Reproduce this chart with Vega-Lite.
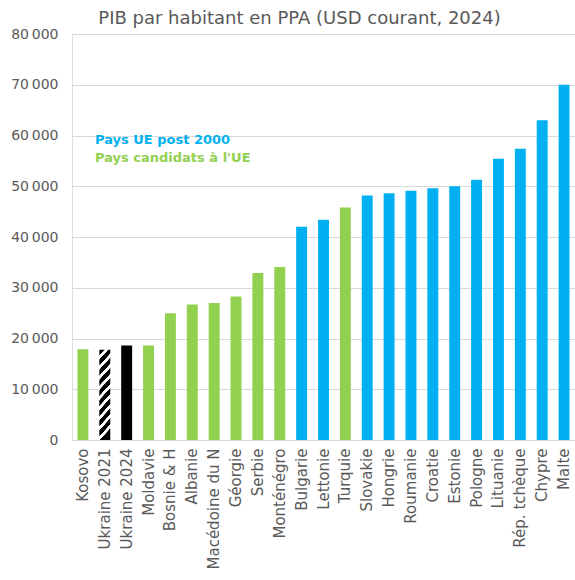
{
  "$schema": "https://vega.github.io/schema/vega-lite/v6.json",
  "width": 503,
  "height": 406,
  "autosize": {"type": "none"},
  "padding": {"left": 72, "top": 34, "right": 0, "bottom": 140},
  "background": "white",
  "title": {
    "text": "PIB par habitant en PPA (USD courant, 2024)",
    "font": "DejaVu Sans",
    "fontSize": 18,
    "fontWeight": "normal",
    "color": "#595959",
    "anchor": "middle",
    "dx": -24,
    "offset": -1
  },
  "data": {
    "values": [
      {"pays": "Kosovo", "pib": 17900, "groupe": "Pays candidats à l'UE"},
      {"pays": "Ukraine 2021", "pib": 17800, "groupe": "Ukraine"},
      {"pays": "Ukraine 2024", "pib": 18600, "groupe": "Ukraine"},
      {"pays": "Moldavie", "pib": 18600, "groupe": "Pays candidats à l'UE"},
      {"pays": "Bosnie & H", "pib": 25000, "groupe": "Pays candidats à l'UE"},
      {"pays": "Albanie", "pib": 26700, "groupe": "Pays candidats à l'UE"},
      {"pays": "Macédoine du N", "pib": 27000, "groupe": "Pays candidats à l'UE"},
      {"pays": "Géorgie", "pib": 28300, "groupe": "Pays candidats à l'UE"},
      {"pays": "Serbie", "pib": 32900, "groupe": "Pays candidats à l'UE"},
      {"pays": "Monténégro", "pib": 34100, "groupe": "Pays candidats à l'UE"},
      {"pays": "Bulgarie", "pib": 42000, "groupe": "Pays UE post 2000"},
      {"pays": "Lettonie", "pib": 43400, "groupe": "Pays UE post 2000"},
      {"pays": "Turquie", "pib": 45800, "groupe": "Pays candidats à l'UE"},
      {"pays": "Slovakie", "pib": 48200, "groupe": "Pays UE post 2000"},
      {"pays": "Hongrie", "pib": 48600, "groupe": "Pays UE post 2000"},
      {"pays": "Roumanie", "pib": 49100, "groupe": "Pays UE post 2000"},
      {"pays": "Croatie", "pib": 49600, "groupe": "Pays UE post 2000"},
      {"pays": "Estonie", "pib": 50000, "groupe": "Pays UE post 2000"},
      {"pays": "Pologne", "pib": 51300, "groupe": "Pays UE post 2000"},
      {"pays": "Lituanie", "pib": 55400, "groupe": "Pays UE post 2000"},
      {"pays": "Rép. tchèque", "pib": 57400, "groupe": "Pays UE post 2000"},
      {"pays": "Chypre", "pib": 63000, "groupe": "Pays UE post 2000"},
      {"pays": "Malte", "pib": 70000, "groupe": "Pays UE post 2000"}
    ]
  },
  "mark": {"type": "bar"},
  "encoding": {
    "x": {
      "field": "pays",
      "type": "nominal",
      "sort": null,
      "scale": {"paddingInner": 0.5, "paddingOuter": 0.25},
      "axis": {
        "title": null,
        "labelAngle": -90,
        "labelFont": "DejaVu Sans",
        "labelFontSize": 15,
        "labelColor": "#595959",
        "ticks": false,
        "domain": true,
        "domainColor": "#d9d9d9",
        "labelPadding": 8,
        "grid": false
      }
    },
    "y": {
      "field": "pib",
      "type": "quantitative",
      "scale": {"domain": [0, 80000], "nice": false},
      "axis": {
        "title": null,
        "values": [0, 10000, 20000, 30000, 40000, 50000, 60000, 70000, 80000],
        "labelExpr": "replace(format(datum.value, ',d'), ',', '\u2009')",
        "labelFont": "DejaVu Sans",
        "labelFontSize": 14,
        "labelColor": "#595959",
        "ticks": false,
        "domain": false,
        "labelPadding": 14,
        "gridColor": "#d9d9d9",
        "gridWidth": 1
      }
    },
    "color": {
      "condition": {
        "test": "datum.pays === 'Ukraine 2021'",
        "value": {
          "gradient": "linear",
          "x1": 0, "y1": 0, "x2": 0.133, "y2": 1,
          "stops": [
            {"offset": 0.0, "color": "black"}, {"offset": 0.06, "color": "black"},
            {"offset": 0.065, "color": "white"}, {"offset": 0.105, "color": "white"},
            {"offset": 0.11, "color": "black"}, {"offset": 0.17, "color": "black"},
            {"offset": 0.175, "color": "white"}, {"offset": 0.215, "color": "white"},
            {"offset": 0.22, "color": "black"}, {"offset": 0.28, "color": "black"},
            {"offset": 0.285, "color": "white"}, {"offset": 0.325, "color": "white"},
            {"offset": 0.33, "color": "black"}, {"offset": 0.39, "color": "black"},
            {"offset": 0.395, "color": "white"}, {"offset": 0.435, "color": "white"},
            {"offset": 0.44, "color": "black"}, {"offset": 0.5, "color": "black"},
            {"offset": 0.505, "color": "white"}, {"offset": 0.545, "color": "white"},
            {"offset": 0.55, "color": "black"}, {"offset": 0.61, "color": "black"},
            {"offset": 0.615, "color": "white"}, {"offset": 0.655, "color": "white"},
            {"offset": 0.66, "color": "black"}, {"offset": 0.72, "color": "black"},
            {"offset": 0.725, "color": "white"}, {"offset": 0.765, "color": "white"},
            {"offset": 0.77, "color": "black"}, {"offset": 0.83, "color": "black"},
            {"offset": 0.835, "color": "white"}, {"offset": 0.875, "color": "white"},
            {"offset": 0.88, "color": "black"}, {"offset": 0.94, "color": "black"},
            {"offset": 0.945, "color": "white"}, {"offset": 0.985, "color": "white"},
            {"offset": 0.99, "color": "black"}, {"offset": 1.0, "color": "black"}
          ]
        }
      },
      "field": "groupe",
      "type": "nominal",
      "scale": {
        "domain": ["Pays UE post 2000", "Pays candidats à l'UE", "Ukraine"],
        "range": ["#00B0F0", "#92D050", "#000000"]
      },
      "legend": {
        "values": ["Pays UE post 2000", "Pays candidats à l'UE"],
        "orient": "none",
        "legendX": 10,
        "legendY": 99,
        "title": null,
        "symbolOpacity": 0,
        "symbolSize": 0,
        "symbolStrokeWidth": 0,
        "labelOffset": 0,
        "labelLimit": 400,
        "labelFont": "DejaVu Sans",
        "labelFontSize": 13,
        "labelFontWeight": "bold",
        "rowPadding": 4,
        "encode": {
          "labels": {"update": {"fill": {"scale": "color", "field": "value"}}}
        }
      }
    }
  }
}
